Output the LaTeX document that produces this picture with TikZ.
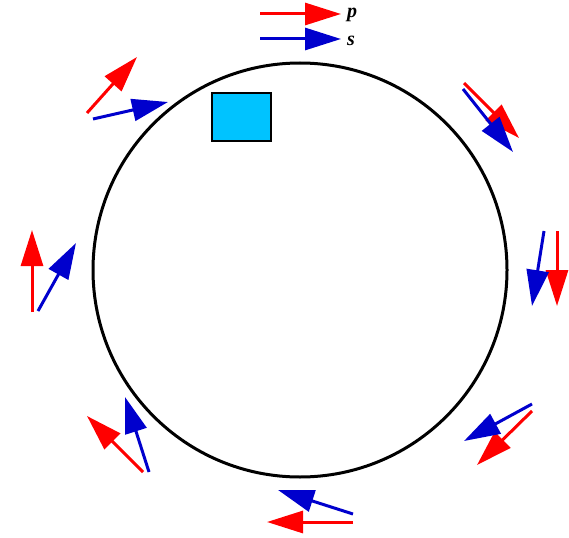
\documentclass[tikz,border=0pt]{standalone}
\usepackage{fontspec}
\setmainfont{Liberation Serif}
\usetikzlibrary{arrows.meta}
\definecolor{pred}{RGB}{255,0,0}
\definecolor{sblue}{RGB}{0,0,205}
\definecolor{boxcyan}{RGB}{0,195,255}
\tikzset{
  parr/.style={draw=pred, line width=3pt, -{Triangle[length=36pt,width=22pt]}},
  sarr/.style={draw=sblue, line width=3pt, -{Triangle[length=36pt,width=22pt]}},
  lbl/.style={font=\fontsize{20}{20}\selectfont\bfseries\itshape, anchor=west, inner sep=0pt}
}
\begin{document}
\begin{tikzpicture}[x=1pt,y=-1pt]
\useasboundingbox (0,0) rectangle (569,537);
\node[draw=black, line width=3pt, circle, minimum size=414pt, inner sep=0pt] (ring) at (300,270) {};
\node[draw=black, line width=2pt, fill=boxcyan, minimum width=59pt, minimum height=48pt, inner sep=0pt] (box) at (241,117) {};
% legend
\coordinate (lp0) at (260,14); \coordinate (lp1) at (341,14);
\coordinate (ls0) at (260,39); \coordinate (ls1) at (341,39);
\draw[parr] (lp0) -- (lp1);
\draw[sarr] (ls0) -- (ls1);
\node[lbl] (pl) at (347,15) {p};
\node[lbl] (sl) at (347,41) {s};
% top-left
\coordinate (a0) at (87,113); \coordinate (a1) at (137,57);
\coordinate (b0) at (93,119); \coordinate (b1) at (168,102);
\draw[parr] (a0) -- (a1); \draw[sarr] (b0) -- (b1);
% top-right
\coordinate (c0) at (464,83); \coordinate (c1) at (519,138);
\coordinate (d0) at (463,89); \coordinate (d1) at (513,152);
\draw[parr] (c0) -- (c1); \draw[sarr] (d0) -- (d1);
% right
\coordinate (e0) at (557,231); \coordinate (e1) at (557,306);
\coordinate (f0) at (544,231); \coordinate (f1) at (532,306);
\draw[parr] (e0) -- (e1); \draw[sarr] (f0) -- (f1);
% left
\coordinate (g0) at (32,312); \coordinate (g1) at (32,230);
\coordinate (h0) at (38,311); \coordinate (h1) at (76,243);
\draw[parr] (g0) -- (g1); \draw[sarr] (h0) -- (h1);
% bottom-left
\coordinate (i0) at (143,472); \coordinate (i1) at (87,416);
\coordinate (j0) at (149,472); \coordinate (j1) at (125,397);
\draw[parr] (i0) -- (i1); \draw[sarr] (j0) -- (j1);
% bottom-right
\coordinate (k0) at (532,411); \coordinate (k1) at (477,465);
\coordinate (l0) at (532,404); \coordinate (l1) at (464,441);
\draw[parr] (k0) -- (k1); \draw[sarr] (l0) -- (l1);
% bottom
\coordinate (m0) at (353,522); \coordinate (m1) at (267,522);
\coordinate (n0) at (353,514); \coordinate (n1) at (278,490);
\draw[parr] (m0) -- (m1); \draw[sarr] (n0) -- (n1);
\end{tikzpicture}
\end{document}
